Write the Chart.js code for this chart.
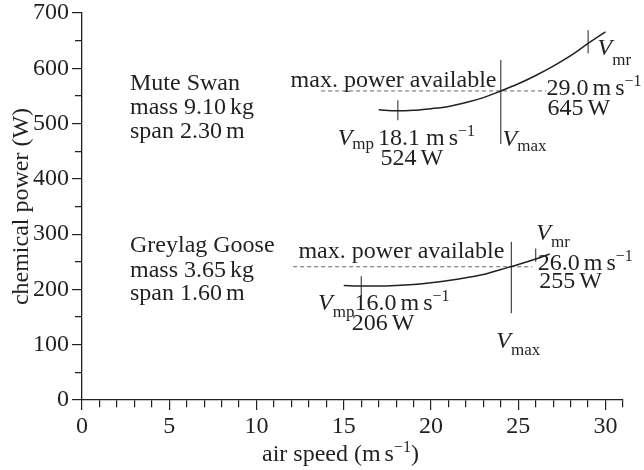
<!DOCTYPE html>
<html>
<head>
<meta charset="utf-8">
<script src="https://cdn.jsdelivr.net/npm/chart.js@4.4.0/dist/chart.umd.min.js"></script>
<style>
  html, body { margin: 0; padding: 0; background: #fff; }
  #probe { font-family: "Liberation Serif"; font-size: 24px; position: absolute; left: -999px; top: 0; }
  #probe i { font-style: italic; }
</style>
</head>
<body>
<span id="probe">Aa <i>V</i></span>
<canvas id="myChart" width="644" height="470"></canvas>
<script>
// power curves (m/s, W)
var swanSpeed = [17, 18, 19, 20, 21, 22, 23, 24, 25, 26, 27, 28, 29, 30];
var swanPower = [525, 523, 524, 527, 531, 538, 547, 559, 572, 587, 604, 623, 645, 666];
var gooseSpeed = [15, 16, 17, 18, 19, 20, 21, 22, 23, 24, 25, 26, 26.8];
var goosePower = [207, 206, 206, 207, 209, 212, 216, 221, 227, 236, 245, 255, 264];

// key speeds: V_mp, V_max, V_mr
var swanKeySpeed = [18.1, 24.0, 29.0];
var gooseKeySpeed = [16.0, 24.6, 26.0];
// power at V_mp, max power available, power at V_mr
var swanKeyPower = [524, 559, 645];
var gooseKeyPower = [206, 241, 255];

var xTickLabels = [0, 5, 10, 15, 20, 25, 30];
var yTickLabels = [0, 100, 200, 300, 400, 500, 600, 700];

var swanInfo = ['Mute Swan', 'mass 9.10~kg', 'span 2.30~m'];
var gooseInfo = ['Greylag Goose', 'mass 3.65~kg', 'span 1.60~m'];

var ink = '#231f20';
var serif = '"Liberation Serif", serif';

function pts(xs, ys) {
  return xs.map(function (x, i) { return {x: x, y: ys[i]}; });
}
function seg(x0, y0, x1, y1) {
  return [{x: x0, y: y0}, {x: x1, y: y1}];
}
function lineSet(data, extra) {
  var d = {data: data, borderColor: ink, borderWidth: 1.3, pointRadius: 0, fill: false};
  for (var k in extra) d[k] = extra[k];
  return d;
}
function fmt(v) { return v.toFixed(1) + '~m~s^{\u22121}'; }

var datasets = [
  lineSet(pts(swanSpeed, swanPower), {tension: 0.4, cubicInterpolationMode: 'monotone', borderWidth: 1.5}),
  lineSet(pts(gooseSpeed, goosePower), {tension: 0.4, cubicInterpolationMode: 'monotone', borderWidth: 1.5}),
  // max power available
  lineSet(seg(13.7, swanKeyPower[1], 26.6, swanKeyPower[1]), {borderDash: [4, 3], borderWidth: 1, borderColor: '#666'}),
  lineSet(seg(12.1, gooseKeyPower[1], 25.8, gooseKeyPower[1]), {borderDash: [4, 3], borderWidth: 1, borderColor: '#666'}),
  // V_max lines
  lineSet(seg(swanKeySpeed[1], swanKeyPower[1] - 96, swanKeySpeed[1], swanKeyPower[1] + 56), {borderWidth: 1}),
  lineSet(seg(gooseKeySpeed[1], gooseKeyPower[1] - 84, gooseKeySpeed[1], gooseKeyPower[1] + 45), {borderWidth: 1}),
  // V_mp / V_mr ticks on the curves
  lineSet(seg(swanKeySpeed[0], swanKeyPower[0] - 18, swanKeySpeed[0], swanKeyPower[0] + 18), {borderWidth: 1}),
  lineSet(seg(swanKeySpeed[2], swanKeyPower[2] - 18, swanKeySpeed[2], swanKeyPower[2] + 24), {borderWidth: 1}),
  lineSet(seg(gooseKeySpeed[0], gooseKeyPower[0] - 18, gooseKeySpeed[0], gooseKeyPower[0] + 18), {borderWidth: 1}),
  lineSet(seg(gooseKeySpeed[2], gooseKeyPower[2] - 5, gooseKeySpeed[2], gooseKeyPower[2] + 19), {borderWidth: 1})
];

// text placed in data units: [speed, power, markup, align, subShift]
var notes = [
  [2.75, 560, swanInfo[0]], [2.75, 516.6, swanInfo[1]], [2.75, 473, swanInfo[2]],
  [2.75, 268, gooseInfo[0]], [2.75, 223, gooseInfo[1]], [2.75, 181, gooseInfo[2]],
  [23.75, 566, 'max. power available', 'right'],
  [29.54, 624, '*V*_{mr}', 'left', 10],
  [26.62, 551.5, fmt(swanKeySpeed[2])],
  [26.67, 516, swanKeyPower[2] + '~W'],
  [14.65, 461, '*V*_{mp}~' + fmt(swanKeySpeed[0]).replace('~', ' '), 'left', 4],
  [17.1, 425, swanKeyPower[0] + '~W'],
  [24.1, 459, '*V*_{max}', 'left', 5],
  [24.2, 256, 'max. power available', 'right'],
  [26.03, 289, '*V*_{mr}', 'left', 7],
  [26.12, 235, fmt(gooseKeySpeed[2])],
  [26.2, 202, gooseKeyPower[2] + '~W'],
  [13.53, 163, '*V*_{mp}' + fmt(gooseKeySpeed[0]), 'left', 7],
  [15.45, 126.6, gooseKeyPower[0] + '~W'],
  [23.74, 93.5, '*V*_{max}', 'left', 7]
];

function parse(s) {
  var out = [], re = /\*([^*]+)\*|_\{([^}]*)\}|\^\{([^}]*)\}|(~)|([^*_^~]+)/g, m;
  while ((m = re.exec(s))) {
    if (m[1]) out.push({t: m[1], k: 'i'});
    else if (m[2]) out.push({t: m[2], k: 'sub'});
    else if (m[3]) out.push({t: m[3], k: 'sup'});
    else if (m[4]) out.push({t: '', k: 'gap'});
    else out.push({t: m[5], k: ''});
  }
  return out;
}

function drawRich(c, x, y, s, align, subShift) {
  var fonts = {'': '24px ' + serif, i: 'italic 24px ' + serif, sub: '17px ' + serif, sup: '16px ' + serif, gap: '24px ' + serif};
  var parts = parse(s), total = 0;
  parts.forEach(function (p) {
    c.font = fonts[p.k];
    p.w = p.k === 'gap' ? 4 : c.measureText(p.t).width;
    total += p.w;
  });
  if (align === 'right') x -= total;
  c.textAlign = 'left';
  c.textBaseline = 'alphabetic';
  parts.forEach(function (p) {
    c.font = fonts[p.k];
    var dy = p.k === 'sub' ? (subShift || 6) : p.k === 'sup' ? -9 : 0;
    if (p.t) c.fillText(p.t, x, y + dy);
    x += p.w;
  });
}

var notesPlugin = {
  id: 'notes',
  afterDatasetsDraw: function (chart) {
    var c = chart.ctx, xs = chart.scales.x, ys = chart.scales.y, a = chart.chartArea;
    c.save();
    c.fillStyle = ink;
    notes.forEach(function (n) {
      drawRich(c, xs.getPixelForValue(n[0]), ys.getPixelForValue(n[1]), n[2], n[3], n[4]);
    });
    // axis titles
    drawRich(c, 262, 461, 'air speed (m~s^{\u22121})');
    c.translate(28, (a.top + a.bottom) / 2);
    c.rotate(-Math.PI / 2);
    c.textAlign = 'center';
    c.font = '24px ' + serif;
    c.fillText('chemical power (W)', 0, 0);
    c.restore();
  }
};

// minor ticks shorter than labelled ones (tick line is 10px long)
function xTickDash(c) {
  return xTickLabels.indexOf(c.tick && c.tick.value) >= 0 ? [] : [7, 100];
}
function yTickDash(c) {
  return yTickLabels.indexOf(c.tick && c.tick.value) >= 0 ? [] : [0, 3, 7, 100];
}
function noPad(s) {
  s.paddingTop = 0; s.paddingBottom = 0; s.paddingLeft = 0; s.paddingRight = 0;
}

var ctx = document.getElementById('myChart');
var myChart;

function build() {
  myChart = new Chart(ctx, {
    type: 'line',
    data: {datasets: datasets},
    options: {
      responsive: false,
      animation: false,
      layout: {padding: {left: 0, top: 13, right: 21, bottom: 0}},
      plugins: {legend: {display: false}, tooltip: {enabled: false}},
      scales: {
        x: {
          type: 'linear', min: 0, max: 31,
          afterFit: function (s) { s.height = 70; noPad(s); },
          border: {display: true, color: ink, width: 1.3},
          grid: {drawOnChartArea: false, drawTicks: true, tickLength: 10, color: ink, lineWidth: 1.2, tickBorderDash: xTickDash},
          ticks: {
            stepSize: 1, color: ink, padding: 2, maxRotation: 0, autoSkip: false,
            font: {family: serif, size: 24},
            callback: function (v) { return xTickLabels.indexOf(v) >= 0 ? String(v) : ''; }
          }
        },
        y: {
          type: 'linear', min: 0, max: 700,
          afterFit: function (s) { s.width = 82; noPad(s); },
          border: {display: true, color: ink, width: 1.3},
          grid: {drawOnChartArea: false, drawTicks: true, tickLength: 10, color: ink, lineWidth: 1.2, tickBorderDash: yTickDash},
          ticks: {
            stepSize: 50, color: ink, padding: 3, autoSkip: false,
            font: {family: serif, size: 24},
            callback: function (v) { return yTickLabels.indexOf(v) >= 0 ? String(v) : ''; }
          }
        }
      }
    },
    plugins: [notesPlugin]
  });
}

Promise.all([
  document.fonts.load('24px "Liberation Serif"'),
  document.fonts.load('italic 24px "Liberation Serif"')
]).then(build, build);
</script>
</body>
</html>
